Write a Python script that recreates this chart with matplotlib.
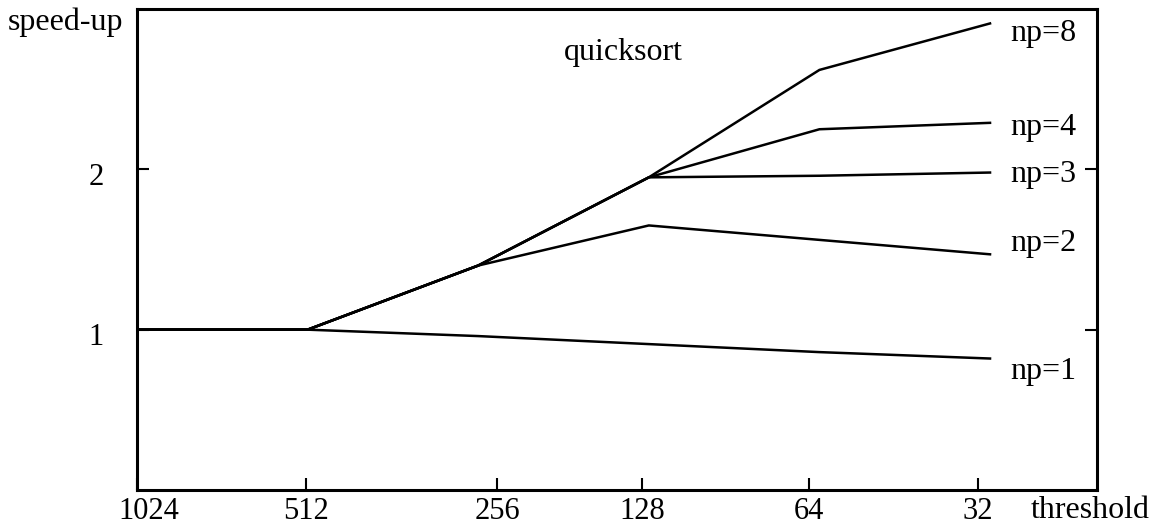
import matplotlib.pyplot as plt
from matplotlib.transforms import ScaledTranslation

plt.rcParams['font.family'] = ['Liberation Serif', 'DejaVu Serif']

thresholds = ['1024', '512', '256', '128', '64', '32']
# speed-up per number of processors
speedup = {
    'np=1': [1.0, 1.0, 0.96, 0.91, 0.86, 0.82],
    'np=2': [1.0, 1.0, 1.40, 1.65, 1.56, 1.47],
    'np=3': [1.0, 1.0, 1.40, 1.95, 1.96, 1.98],
    'np=4': [1.0, 1.0, 1.40, 1.95, 2.25, 2.29],
    'np=8': [1.0, 1.0, 1.40, 1.95, 2.62, 2.91],
}
# where the hand-drawn ticks sit (not exactly under the data points)
tick_pos = [0.0, 0.99, 2.11, 2.96, 3.94, 4.93]
label_y = {'np=1': 0.74, 'np=2': 1.54, 'np=3': 1.97, 'np=4': 2.26, 'np=8': 2.85}

fs = 23
fig = plt.figure(figsize=(11.59, 5.28), dpi=100)
ax = fig.add_axes([137/1159, 38/528, 960/1159, 481/528])

xs = list(range(len(thresholds)))
for name, vals in speedup.items():
    ax.plot(xs, vals, color='black', lw=1.8, solid_joinstyle='miter')
    ax.text(5.12, label_y[name], name, fontsize=fs, va='center', ha='left')

ax.set_xlim(0, 5.627)
ax.set_ylim(0, 3)
ax.set_xticks(tick_pos)
ax.set_xticklabels(thresholds)
ax.set_yticks([1, 2])
ax.set_yticklabels(['1', '2'])
ax.tick_params(axis='x', direction='in', length=8.5, width=1.5, labelsize=22, pad=5)
ax.tick_params(axis='y', direction='in', length=8.5, width=1.5, labelsize=22, pad=24,
               right=True)
down = ScaledTranslation(0, -8/100, fig.dpi_scale_trans)
for lab in ax.get_yticklabels():
    lab.set_verticalalignment('center')
    lab.set_transform(lab.get_transform() + down)
# the first x label sits a bit right of the corner
first = ax.get_xticklabels()[0]
first.set_transform(first.get_transform() + ScaledTranslation(12/100, 0, fig.dpi_scale_trans))
for s in ax.spines.values():
    s.set_linewidth(2.2)

ax.text(2.85, 2.73, 'quicksort', fontsize=fs, ha='center', va='center')
fig.text(8/1159, 1 - 22/528, 'speed-up', fontsize=fs, ha='left', va='center')
fig.text(1150/1159, 1 - 510/528, 'threshold', fontsize=fs, ha='right', va='center')

fig.savefig('out.png', dpi=100)
